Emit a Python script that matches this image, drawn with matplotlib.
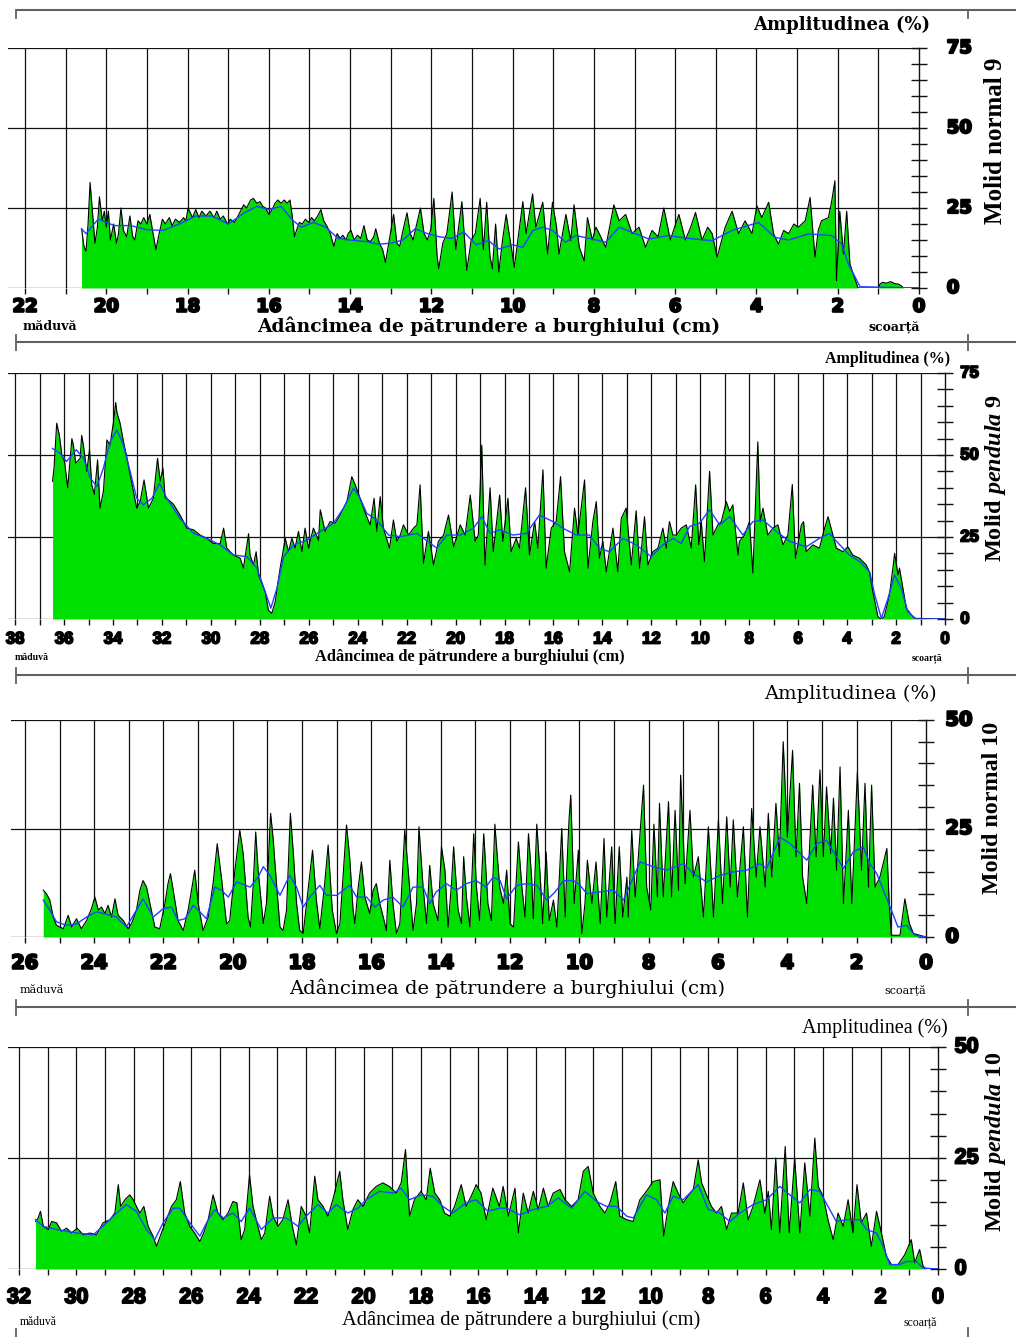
import matplotlib
matplotlib.use("Agg")
import numpy as np
import matplotlib.pyplot as plt
import matplotlib.patheffects as pe

plt.rcParams['mathtext.fontset'] = 'custom'
plt.rcParams['mathtext.it'] = 'Liberation Serif:italic:bold'
plt.rcParams['mathtext.rm'] = 'Liberation Serif:bold'

W, H = 1016, 1337

# ---------------------------------------------------------------------------
# Resistograph profiles: (depth cm, amplitude %) for raw signal and trend
# ---------------------------------------------------------------------------
p1_raw = [
    (20.61, 18.5), (20.55, 13), (20.50, 11.5), (20.45, 20), (20.40, 33), (20.33, 22),
    (20.28, 14), (20.22, 19), (20.17, 28.5), (20.10, 21), (20.05, 24), (20.00, 19),
    (19.95, 24), (19.90, 15), (19.82, 20), (19.75, 14), (19.70, 17), (19.64, 25),
    (19.58, 18), (19.50, 16), (19.42, 22.5), (19.35, 16), (19.30, 15), (19.22, 21),
    (19.15, 20), (19.08, 22), (19.00, 20), (18.93, 23), (18.85, 17), (18.78, 12),
    (18.70, 17), (18.62, 21.5), (18.55, 20), (18.45, 22), (18.38, 19.5), (18.30, 21.5),
    (18.20, 20.5), (18.10, 22), (18.04, 21), (17.99, 25), (17.88, 22), (17.80, 24.5),
    (17.72, 22), (17.65, 24), (17.55, 22.5), (17.45, 24), (17.35, 22), (17.28, 24),
    (17.20, 21.5), (17.12, 22.5), (17.02, 20), (16.95, 21.5), (16.85, 20.5), (16.78, 22),
    (16.70, 24), (16.62, 26), (16.55, 25), (16.45, 27.5), (16.38, 28), (16.30, 26.5),
    (16.22, 27), (16.15, 25.5), (16.08, 25), (16.00, 23), (15.92, 24.5), (15.85, 26.5),
    (15.78, 27.5), (15.70, 26.5), (15.62, 27.5), (15.55, 26.5), (15.48, 27.5), (15.42, 22),
    (15.37, 16), (15.32, 18), (15.25, 20.5), (15.18, 20), (15.10, 21.5), (15.02, 20.5),
    (14.95, 22), (14.88, 21), (14.80, 22.5), (14.72, 24.5), (14.65, 21), (14.58, 19.5),
    (14.50, 17.5), (14.40, 13), (14.32, 17), (14.25, 15.5), (14.18, 16.5), (14.10, 15),
    (14.05, 17), (13.98, 18), (13.90, 15), (13.82, 16.5), (13.74, 15.5), (13.66, 19.5),
    (13.58, 15), (13.50, 14.5), (13.42, 16), (13.37, 18.5), (13.28, 14), (13.20, 12),
    (13.13, 8), (13.05, 14), (12.93, 23), (12.85, 14), (12.78, 13), (12.70, 18),
    (12.60, 23.5), (12.52, 17), (12.45, 15), (12.38, 19), (12.27, 25), (12.18, 17),
    (12.10, 15), (12.02, 18), (11.94, 28), (11.86, 10), (11.82, 6), (11.72, 14),
    (11.62, 17), (11.49, 30), (11.40, 12), (11.32, 20), (11.25, 27), (11.13, 5.5),
    (11.02, 15), (10.92, 17), (10.80, 28), (10.72, 12), (10.64, 26.8), (10.56, 10),
    (10.50, 6), (10.42, 20), (10.34, 5), (10.25, 15), (10.16, 23), (9.96, 6.5),
    (9.75, 27), (9.67, 17), (9.51, 29.4), (9.43, 19), (9.26, 26.8), (9.14, 10.6),
    (9.02, 26.8), (8.92, 19), (8.86, 10.6), (8.69, 23), (8.57, 14.8), (8.49, 26),
    (8.36, 12.7), (8.24, 8.5), (8.16, 22), (8.04, 15), (7.95, 19), (7.87, 17),
    (7.71, 12.7), (7.51, 26), (7.38, 21), (7.22, 23), (7.06, 17), (6.89, 19),
    (6.73, 12.7), (6.57, 18), (6.42, 16), (6.28, 25), (6.12, 15), (5.91, 23),
    (5.75, 15), (5.62, 19), (5.50, 23.6), (5.34, 15), (5.20, 19), (5.09, 17),
    (4.97, 9.6), (4.77, 19), (4.60, 24), (4.44, 17), (4.28, 21), (4.11, 17),
    (3.99, 25.7), (3.87, 22), (3.70, 26.8), (3.58, 17), (3.46, 13.7), (3.33, 18),
    (3.21, 17), (3.08, 20), (2.97, 19), (2.80, 21), (2.68, 28.3), (2.56, 9.6),
    (2.48, 18), (2.40, 21), (2.23, 22), (2.15, 27), (2.07, 33.5), (2.03, 2.3),
    (1.95, 24), (1.86, 10.6), (1.78, 24), (1.70, 7.5), (1.62, 4.4), (1.50, 0),
    (1.00, 0), (0.96, 1.2), (0.90, 1.8), (0.80, 1.5), (0.70, 2.0), (0.60, 1.4),
    (0.50, 1.2), (0.42, 0.5), (0.38, 0), (0.00, 0),
]
p1_trend = [
    (20.61, 18.5), (20.5, 17), (20.2, 21.5), (19.8, 19.5), (19.4, 19.5), (19.0, 18.2),
    (18.6, 18), (18.2, 20), (17.8, 22.5), (17.4, 22.5), (17.0, 20), (16.6, 23.5),
    (16.3, 25.5), (16.0, 24.5), (15.7, 25.5), (15.4, 21), (15.2, 19), (14.9, 20.5),
    (14.6, 19), (14.3, 15.5), (14.0, 15), (13.6, 14.5), (13.3, 13.7), (13.0, 14),
    (12.7, 15), (12.4, 18.5), (12.1, 17), (11.8, 16), (11.5, 15.5), (11.2, 17.5),
    (10.9, 13.5), (10.6, 14.8), (10.33, 12.2), (10.0, 13.5), (9.75, 12.7), (9.5, 18),
    (9.26, 19), (9.02, 18), (8.7, 14.3), (8.45, 16.4), (8.04, 15.3), (7.71, 14.3),
    (7.38, 19), (7.06, 17.4), (6.65, 15.3), (6.16, 16.4), (5.75, 15.6), (5.09, 14.8),
    (4.6, 18), (3.95, 20.5), (3.54, 15.8), (3.21, 15), (2.72, 16.9), (2.15, 16.4),
    (1.9, 13.7), (1.74, 7.5), (1.45, 0.4), (0.0, 0),
]

p2_raw = [
    (36.47, 42), (36.41, 46), (36.30, 59.7), (36.19, 56), (36.09, 50), (35.98, 48),
    (35.85, 40), (35.68, 55), (35.62, 53), (35.52, 47.5), (35.34, 49), (35.28, 56),
    (35.21, 53), (35.07, 45), (34.96, 51.6), (34.87, 41), (34.76, 38), (34.63, 48.5),
    (34.53, 33.8), (34.39, 39), (34.25, 54.6), (34.12, 53), (33.98, 60), (33.89, 66),
    (33.84, 63), (33.71, 59.7), (33.57, 54), (33.44, 49.5), (33.30, 44), (33.03, 33.8),
    (32.89, 35.8), (32.73, 42.4), (32.55, 33.8), (32.35, 36.8), (32.18, 49), (32.07, 42),
    (31.96, 46), (31.87, 37), (31.73, 36.3), (31.53, 35), (31.26, 31.7), (30.98, 27.7),
    (30.71, 27.2), (30.44, 25.6), (30.17, 24.6), (29.89, 23), (29.62, 23), (29.48, 27.7),
    (29.35, 21.6), (29.08, 19.5), (28.80, 18.5), (28.67, 15.5), (28.46, 26), (28.40, 19.5),
    (28.26, 16.5), (28.15, 20.5), (28.05, 13.4), (27.92, 10.9), (27.78, 8.3), (27.65, 2.7),
    (27.51, 1.7), (27.37, 5.3), (27.17, 15.5), (26.96, 24.6), (26.83, 20.5), (26.69, 24.6),
    (26.56, 21.6), (26.42, 26.7), (26.28, 20.5), (26.15, 27.7), (26.01, 21.6), (25.81, 27.7),
    (25.60, 24), (25.53, 33.3), (25.33, 26.7), (25.13, 29.7), (24.92, 29.2), (24.72, 31.7),
    (24.44, 35.8), (24.24, 43.4), (24.10, 40.9), (23.90, 36.8), (23.63, 31.2), (23.49, 28.7),
    (23.33, 36.8), (23.22, 26.7), (23.08, 37.3), (22.95, 27.7), (22.70, 21.6), (22.54, 30.2),
    (22.40, 23.7), (22.26, 25.6), (22.13, 28.7), (21.92, 25.6), (21.72, 27.7), (21.58, 28.7),
    (21.45, 40.9), (21.31, 17), (21.11, 26.7), (20.90, 16.5), (20.70, 23.7), (20.49, 25.6),
    (20.29, 31.7), (20.08, 22), (19.81, 28.7), (19.61, 25.6), (19.40, 37.8), (19.20, 23.7),
    (19.07, 25.6), (18.93, 53), (18.80, 16.5), (18.59, 40), (18.46, 20.5), (18.20, 37.8),
    (18.07, 23.7), (17.86, 36.8), (17.73, 20.5), (17.52, 24.6), (17.39, 21.6), (17.14, 40),
    (16.98, 19.5), (16.77, 29.7), (16.64, 21.6), (16.43, 45.5), (16.30, 15.5), (16.09, 27.7),
    (15.89, 29.7), (15.71, 43.4), (15.55, 20.5), (15.34, 14.4), (15.14, 33.8), (15.00, 25.6),
    (14.73, 42.4), (14.59, 15.5), (14.39, 29.7), (14.25, 35.8), (14.12, 18.5), (13.98, 23.7),
    (13.84, 14.4), (13.57, 27.7), (13.37, 14.4), (13.23, 30.7), (13.03, 33.8), (12.82, 16.5),
    (12.62, 33), (12.48, 15.5), (12.28, 31.2), (12.14, 16.5), (11.94, 20.5), (11.73, 21.6),
    (11.53, 27.7), (11.39, 21.6), (11.26, 29.7), (11.12, 25.6), (10.98, 25.6), (10.78, 27.7),
    (10.57, 28.7), (10.37, 21.6), (10.19, 40.9), (10.06, 22.6), (9.96, 29.7), (9.83, 17.5),
    (9.62, 45), (9.48, 25.6), (9.28, 28.7), (9.14, 29.7), (8.94, 35.8), (8.80, 32.8),
    (8.67, 34.8), (8.46, 19.5), (8.40, 23.7), (8.19, 25.6), (7.99, 29.7), (7.85, 14),
    (7.65, 54), (7.55, 29.7), (7.44, 33.8), (7.24, 25.6), (7.03, 27.7), (6.83, 28.7),
    (6.62, 22.6), (6.42, 25.6), (6.24, 41), (6.11, 18.5), (5.87, 28.7), (5.78, 29.7),
    (5.67, 20.5), (5.40, 22.6), (5.13, 21.6), (4.92, 27.7), (4.78, 31.2), (4.58, 25.6),
    (4.44, 21.6), (4.17, 20.5), (3.97, 22), (3.77, 19.5), (3.49, 18.5), (3.22, 16.5),
    (3.09, 14.4), (2.95, 8.3), (2.74, 0.7), (2.61, 0), (2.48, 0.7), (2.27, 7.3),
    (2.13, 15.5), (2.06, 20), (1.92, 13.4), (1.86, 15.5), (1.72, 9.4), (1.58, 3.3),
    (1.37, 1.2), (1.24, 0.2), (0.00, 0),
]
p2_trend = [
    (36.47, 52), (36.16, 50.5), (35.9, 48), (35.5, 51.6), (35.2, 49), (34.93, 43),
    (34.66, 40.4), (34.39, 46), (34.12, 54), (33.84, 57.7), (33.57, 53), (33.3, 45),
    (33.03, 36.8), (32.76, 34.8), (32.41, 36.8), (32.1, 41.4), (31.8, 36.8), (31.26, 30.7),
    (30.71, 26.1), (30.17, 24.6), (29.62, 22.6), (29.08, 19.5), (28.53, 19), (28.12, 15.5),
    (27.78, 8.3), (27.55, 3.3), (27.3, 9.4), (27.03, 19), (26.62, 22.6), (26.08, 24),
    (25.53, 26.7), (24.99, 29.2), (24.58, 33.8), (24.17, 39.9), (23.9, 36.8), (23.63, 32.2),
    (23.22, 30.2), (22.74, 25.6), (22.26, 25.1), (21.58, 26.1), (21.2, 24), (20.77, 21.6),
    (20.36, 25.6), (19.81, 25.6), (19.27, 27.7), (18.93, 31.2), (18.59, 26.1), (18.2, 27.2),
    (17.66, 25.6), (17.11, 26.1), (16.57, 31.7), (16.02, 29.7), (15.62, 27.7), (15.07, 25.6),
    (14.53, 25.6), (14.12, 21.6), (13.71, 20.5), (13.16, 24.6), (12.62, 22.6), (12.0, 19),
    (11.53, 22.6), (11.12, 24.6), (10.78, 23), (10.44, 28.2), (10.03, 29.2), (9.62, 33.3),
    (9.21, 28.7), (8.8, 31.2), (8.26, 25.6), (7.85, 29.7), (7.44, 30.2), (6.9, 26.7),
    (6.35, 23.7), (5.67, 22), (5.13, 24.6), (4.72, 26.1), (4.44, 23.7), (3.9, 19.5),
    (3.49, 17.5), (3.08, 14.4), (2.87, 7.3), (2.6, 0.2), (2.33, 6.3), (2.06, 13.4),
    (1.79, 9.4), (1.52, 2.2), (1.18, 0), (0.0, 0),
]

p3_raw = [
    (25.47, 10.8), (25.38, 10), (25.28, 8.5), (25.18, 4.6), (25.09, 2.7), (24.99, 2.3),
    (24.89, 1.9), (24.75, 5), (24.65, 2.3), (24.51, 4.2), (24.37, 1.9), (24.22, 3.8),
    (24.08, 6.5), (23.98, 9.2), (23.88, 6.2), (23.79, 6.9), (23.69, 5.4), (23.60, 7.3),
    (23.50, 4.6), (23.40, 8.8), (23.31, 5), (23.16, 3.8), (23.02, 1.9), (22.92, 3.1),
    (22.78, 6.2), (22.68, 10.8), (22.59, 13), (22.49, 11.5), (22.39, 7.7), (22.25, 2.3),
    (22.11, 1.9), (21.96, 7.7), (21.87, 12.3), (21.80, 14.6), (21.72, 10.8), (21.58, 3.8),
    (21.43, 1.5), (21.29, 6.2), (21.16, 12.3), (21.10, 15.4), (21.00, 7.7), (20.86, 1.5),
    (20.71, 4.6), (20.57, 12.3), (20.45, 21.5), (20.33, 13.8), (20.18, 3), (20.09, 3.8),
    (19.94, 15.4), (19.80, 24.6), (19.70, 19.2), (19.56, 4.6), (19.49, 2.3), (19.41, 12.3),
    (19.34, 24.2), (19.27, 15.4), (19.12, 3.1), (19.03, 7.7), (18.91, 28.5), (18.84, 23),
    (18.74, 12.3), (18.64, 2.3), (18.55, 1.5), (18.45, 6.2), (18.34, 28.5), (18.26, 20),
    (18.16, 7.7), (18.07, 1.5), (17.97, 0.8), (17.83, 10.8), (17.70, 20), (17.59, 8.5),
    (17.49, 1.9), (17.35, 12.3), (17.25, 21.2), (17.13, 6.2), (17.01, 0.8), (16.91, 3.1),
    (16.82, 13.8), (16.72, 25.8), (16.63, 18.5), (16.53, 6.2), (16.48, 3.1), (16.38, 11.5),
    (16.29, 17.3), (16.19, 9.2), (16.05, 5.4), (15.95, 10.8), (15.86, 12.3), (15.76, 7.7),
    (15.66, 4.6), (15.57, 1.5), (15.47, 17.7), (15.38, 7.7), (15.28, 0.8), (15.18, 3.1),
    (15.04, 24.6), (14.94, 15.4), (14.80, 1.5), (14.70, 7.7), (14.63, 25.4), (14.51, 11.5),
    (14.41, 3.1), (14.32, 16.5), (14.22, 7.7), (14.08, 3.8), (13.98, 20.8), (13.88, 15.4),
    (13.79, 2.3), (13.69, 12.3), (13.63, 20.8), (13.50, 6.2), (13.40, 3.1), (13.34, 18.5),
    (13.26, 9.2), (13.16, 2.3), (13.05, 23.8), (12.97, 11.5), (12.88, 3.8), (12.76, 23.8),
    (12.64, 7.7), (12.54, 3.8), (12.44, 26), (12.30, 11.5), (12.19, 7.7), (12.10, 15.4),
    (12.00, 3), (11.90, 2.3), (11.76, 21.9), (11.66, 11.5), (11.57, 4.6), (11.47, 23.8),
    (11.38, 13.8), (11.33, 4.2), (11.23, 26), (11.13, 13.8), (11.06, 3.1), (10.96, 19.6),
    (10.87, 3.8), (10.75, 8.5), (10.65, 2.3), (10.51, 25), (10.41, 4.6), (10.37, 14.6),
    (10.30, 27), (10.25, 32.7), (10.15, 7.7), (10.03, 20), (9.93, 0.8), (9.84, 7.7),
    (9.77, 17.7), (9.64, 7.7), (9.52, 17.3), (9.40, 3.1), (9.29, 22.7), (9.21, 4.6),
    (9.07, 20.8), (8.97, 3.1), (8.85, 20.8), (8.75, 4.6), (8.63, 13.8), (8.59, 4.6),
    (8.49, 24.6), (8.39, 9.2), (8.30, 18.5), (8.15, 35), (8.06, 11.5), (7.94, 6.2),
    (7.85, 26), (7.75, 9.2), (7.69, 30.8), (7.58, 9.2), (7.43, 31.2), (7.34, 9.2),
    (7.24, 29.2), (7.14, 10.8), (7.08, 37.3), (6.95, 12.3), (6.81, 29.2), (6.71, 13.8),
    (6.57, 18.5), (6.42, 4.6), (6.28, 25.4), (6.13, 4.6), (5.99, 27), (5.87, 7.7),
    (5.75, 27.7), (5.65, 11.5), (5.56, 27), (5.44, 9.2), (5.27, 25.4), (5.15, 4.6),
    (5.03, 29.6), (4.90, 13.8), (4.79, 25.4), (4.64, 11.5), (4.55, 28.5), (4.45, 13.8),
    (4.33, 30.8), (4.23, 18.5), (4.12, 45), (4.00, 23), (3.85, 43), (3.75, 18.5),
    (3.65, 35.4), (3.56, 13.8), (3.44, 7.7), (3.27, 35), (3.17, 18.5), (3.06, 38.5),
    (2.96, 18.5), (2.87, 34.6), (2.75, 19.2), (2.67, 32), (2.58, 15.4), (2.48, 39.2),
    (2.38, 7.7), (2.24, 29.2), (2.14, 7.7), (1.98, 38), (1.86, 15.4), (1.76, 35.4),
    (1.66, 11.5), (1.57, 35), (1.47, 11.5), (1.33, 13.8), (1.13, 20.4), (1.06, 7.7),
    (1.00, 0.4), (0.75, 0.4), (0.61, 8.8), (0.48, 3.1), (0.36, 0.8), (0.00, 0),
]
p3_trend = [
    (25.47, 8.5), (25.28, 6.2), (25.09, 3.5), (24.8, 2.7), (24.51, 3), (24.22, 4.6),
    (23.93, 5.8), (23.64, 5.2), (23.36, 4.6), (23.07, 2.3), (22.78, 6.2), (22.59, 8.8),
    (22.3, 4.6), (22.01, 6.5), (21.77, 6.9), (21.58, 3.8), (21.38, 4.2), (21.14, 7.3),
    (20.95, 5.8), (20.76, 4.2), (20.52, 11.5), (20.33, 10.8), (20.13, 9.2), (19.89, 12.7),
    (19.5, 11.5), (19.27, 13.8), (19.12, 16.2), (18.93, 14.2), (18.64, 9.6), (18.36, 14.2),
    (18.16, 11.5), (17.97, 6.9), (17.78, 9.2), (17.49, 11.9), (17.3, 9.6), (17.0, 9.6),
    (16.63, 11.9), (16.43, 9.2), (16.14, 9.2), (15.9, 6.9), (15.66, 8.5), (15.38, 9.2),
    (15.09, 6.9), (14.8, 11.5), (14.51, 11.5), (14.32, 7.7), (14.13, 10.4), (13.84, 12.3),
    (13.55, 10.8), (13.26, 12.3), (12.98, 13), (12.7, 11.5), (12.49, 13.8), (12.29, 13),
    (12.1, 8.8), (11.81, 11.9), (11.52, 12.3), (11.23, 11.9), (10.94, 8.5), (10.7, 10.4),
    (10.46, 13), (10.17, 13), (9.98, 11.9), (9.79, 10), (9.4, 10.4), (9.02, 10.8),
    (8.73, 8.5), (8.44, 13.8), (8.25, 17.3), (7.87, 16.2), (7.48, 15.4), (7.0, 16.9),
    (6.71, 14.6), (6.33, 12.7), (5.94, 14.2), (5.56, 15), (5.17, 15.4), (4.79, 16.9),
    (4.6, 15.8), (4.21, 23), (3.92, 21.5), (3.63, 19.2), (3.44, 17.7), (3.15, 21.5),
    (2.87, 22.3), (2.67, 19.6), (2.38, 15.8), (2.1, 19.6), (1.81, 20.8), (1.62, 16.9),
    (1.42, 14.6), (1.23, 10.8), (1.0, 6.2), (0.81, 2.3), (0.56, 2.7), (0.32, 0.4),
    (0.0, 0),
]

p4_raw = [
    (31.42, 10.7), (31.33, 11.5), (31.25, 13), (31.15, 9.6), (30.98, 8.9), (30.86, 10.7),
    (30.69, 10.4), (30.52, 8.5), (30.34, 9.2), (30.17, 8.1), (29.97, 9.2), (29.76, 7.7),
    (29.53, 8.1), (29.30, 7.7), (29.07, 10.4), (28.83, 11.1), (28.66, 12.6), (28.54, 19),
    (28.46, 14.1), (28.31, 15.6), (28.14, 16.7), (28.02, 15.6), (27.91, 14.1), (27.79, 12.6),
    (27.65, 14.1), (27.50, 9.6), (27.33, 7.4), (27.21, 5.1), (27.04, 8.1), (26.86, 11.1),
    (26.69, 14.1), (26.52, 15.6), (26.38, 19.7), (26.23, 12.6), (26.05, 9.6), (25.88, 8.1),
    (25.70, 6.2), (25.57, 8.1), (25.41, 11.1), (25.24, 16.7), (25.07, 12.6), (24.89, 11.1),
    (24.72, 12.6), (24.55, 15.2), (24.41, 14.9), (24.26, 6.6), (24.14, 8.9), (23.97, 21.2),
    (23.85, 14.1), (23.68, 9.6), (23.56, 6.6), (23.44, 8.1), (23.27, 16.4), (23.15, 11.9),
    (22.98, 9.6), (22.81, 11.1), (22.63, 15.6), (22.48, 9.6), (22.34, 5.5), (22.17, 14.1),
    (22.00, 11.9), (21.88, 8.1), (21.70, 20.9), (21.59, 15.6), (21.41, 14.1), (21.24, 11.9),
    (21.07, 15.6), (20.83, 22), (20.72, 15.6), (20.55, 8.9), (20.37, 13.4), (20.20, 15.6),
    (20.02, 14.1), (19.79, 17.1), (19.56, 18.6), (19.33, 19.4), (19.10, 18.6), (18.86, 17.1),
    (18.69, 19.4), (18.54, 26.9), (18.40, 11.9), (18.23, 15.6), (18.00, 17.5), (17.82, 15.6),
    (17.68, 22.7), (17.52, 17.1), (17.35, 15.6), (17.18, 12.6), (17.00, 11.9), (16.83, 14.1),
    (16.60, 19), (16.43, 14.1), (16.25, 16.4), (16.08, 19), (15.91, 17.1), (15.73, 11.1),
    (15.50, 18.2), (15.27, 14.1), (15.14, 18.6), (14.96, 11.9), (14.73, 18.2), (14.61, 8.1),
    (14.44, 17.1), (14.27, 12.6), (14.09, 17.5), (13.92, 13.4), (13.74, 18.2), (13.57, 14.1),
    (13.40, 17.1), (13.16, 17.9), (12.99, 15.6), (12.76, 14.1), (12.53, 15.6), (12.35, 22),
    (12.18, 23.1), (12.00, 17), (11.77, 14.1), (11.60, 12.6), (11.42, 14.9), (11.22, 19.7),
    (11.08, 11.9), (10.84, 11.1), (10.61, 10.7), (10.38, 15.6), (10.15, 17.5), (9.92, 19.7),
    (9.68, 20.1), (9.55, 7.4), (9.39, 14.1), (9.22, 19.7), (9.05, 17.1), (8.87, 14.9),
    (8.70, 16.4), (8.52, 17.9), (8.35, 24.6), (8.23, 19.4), (8.06, 16.7), (7.89, 14.1),
    (7.71, 12.6), (7.54, 14.1), (7.36, 8.9), (7.19, 12.6), (6.96, 12.6), (6.78, 19.4),
    (6.61, 11.1), (6.44, 14.1), (6.20, 20.1), (6.03, 12.6), (5.91, 17.5), (5.80, 8.9),
    (5.65, 25), (5.51, 8.1), (5.32, 27.6), (5.18, 8.1), (4.99, 25), (4.81, 8.1),
    (4.64, 23.9), (4.46, 11.9), (4.29, 29.5), (4.17, 18.6), (4.00, 16.4), (3.83, 11.1),
    (3.65, 6.6), (3.48, 12.6), (3.30, 9.6), (3.13, 15.6), (2.96, 8.1), (2.82, 19),
    (2.67, 10.4), (2.49, 12.6), (2.32, 5.1), (2.14, 13), (1.97, 8.1), (1.80, 2.9),
    (1.62, 1), (1.39, 1), (1.16, 3.2), (0.93, 6.6), (0.81, 1.4), (0.64, 4.4),
    (0.52, 0.6), (0.40, 0), (0.00, 0),
]
p4_trend = [
    (31.42, 11.1), (31.15, 9.6), (30.69, 8.9), (29.99, 8.1), (29.41, 7.7), (28.95, 10.4),
    (28.6, 12.6), (28.26, 14.5), (27.91, 13), (27.56, 8.9), (27.27, 6.6), (26.98, 10.4),
    (26.63, 13.7), (26.4, 13.7), (26.05, 10.4), (25.7, 7.4), (25.41, 11.1), (25.18, 13.4),
    (24.89, 11.5), (24.55, 12.6), (24.26, 10.7), (23.97, 13.7), (23.56, 8.9), (23.15, 11.5),
    (22.69, 11.5), (22.28, 9.6), (22.0, 11.9), (21.59, 14.5), (21.24, 12.6), (20.95, 14.5),
    (20.55, 12.6), (20.2, 13.7), (19.91, 15.6), (19.44, 17.5), (18.98, 17.1), (18.69, 18.2),
    (18.4, 15.6), (18.0, 16.7), (17.59, 16.4), (17.24, 14.1), (16.9, 12.6), (16.43, 14.9),
    (16.08, 15.6), (15.67, 13), (15.27, 13.7), (15.02, 13.7), (14.56, 12.2), (14.09, 13.4),
    (13.63, 14.1), (13.22, 16), (12.76, 13.7), (12.29, 17.5), (11.89, 15.2), (11.54, 14.1),
    (11.19, 14.1), (10.84, 11.9), (10.61, 11.5), (10.15, 16.7), (9.8, 15.6), (9.51, 12.6),
    (9.22, 16.4), (8.87, 15.6), (8.35, 19), (8.0, 13.4), (7.6, 12.6), (7.25, 10.7),
    (6.9, 12.6), (6.44, 14.5), (5.97, 15.6), (5.51, 18.6), (5.16, 16.7), (4.81, 14.9),
    (4.46, 17.9), (4.12, 17.5), (3.77, 13.4), (3.54, 10.7), (3.19, 11.1), (2.72, 11.1),
    (2.49, 8.9), (2.14, 8.1), (1.91, 5.1), (1.68, 1), (1.33, 1), (1.1, 1.7),
    (0.75, 1.7), (0.52, 0.2), (0.0, 0),
]

titles = ["Molid normal 9", r"Molid $\mathit{pendula}$ 9",
          "Molid normal 10", r"Molid $\mathit{pendula}$ 10"]
x_label = "Adâncimea de pătrundere a burghiului (cm)"
y_label = "Amplitudinea (%)"
pith_label = "măduvă"
bark_label = "scoarță"

GREEN = "#00e000"
BLUE = "#2040ff"
INK = "#111111"

fig = plt.figure(figsize=(W / 100, H / 100), dpi=100)


def px_axes(left, right, top, bottom):
    return fig.add_axes([left / W, 1 - bottom / H, (right - left) / W, (bottom - top) / H])


# panel geometry (pixel box of the plotting area) and styling
panels = [
    dict(raw=p1_raw, trend=p1_trend, box=(8, 919, 48, 288), xmax=22.42, ymax=75,
         tick_font=dict(family="DejaVu Sans", weight="bold", size=13), stroke=1.6,
         xpad=3, ypad=14),
    dict(raw=p2_raw, trend=p2_trend, box=(8, 945, 373, 619), xmax=38.29, ymax=75,
         tick_font=dict(family="Liberation Sans", weight="bold", size=12), stroke=1.3,
         xpad=5, ypad=5),
    dict(raw=p3_raw, trend=p3_trend, box=(11, 926, 720, 937), xmax=26.40, ymax=50,
         tick_font=dict(family="DejaVu Sans", weight="bold", size=14), stroke=1.6,
         xpad=8, ypad=8),
    dict(raw=p4_raw, trend=p4_trend, box=(8, 938, 1047, 1269), xmax=32.38, ymax=50,
         tick_font=dict(family="Liberation Sans", weight="bold", size=15.5), stroke=1.4,
         xpad=9, ypad=6),
]

for p in panels:
    ax = px_axes(*p["box"])
    xmax, ymax = p["xmax"], p["ymax"]
    ax.set_xlim(xmax, 0)
    ax.set_ylim(0, ymax)
    ax.patch.set_alpha(0)

    # grid: one line per centimetre, one per 25 %
    for c in range(1, int(xmax) + 1):
        ax.axvline(c, color=INK, lw=0.9, zorder=1)
    for v in range(0, ymax + 1, 25):
        ax.axhline(v, color=INK, lw=0.9, zorder=1)

    d_raw, a_raw = zip(*p["raw"])
    d_tr, a_tr = zip(*p["trend"])
    ax.fill_between(d_raw, a_raw, 0, color=GREEN, lw=0, zorder=2)
    ax.plot(d_raw, a_raw, color="black", lw=0.8, zorder=3)
    ax.plot(d_tr, a_tr, color=BLUE, lw=1.0, zorder=4)

    for s in ("top", "left", "bottom"):
        ax.spines[s].set_visible(False)
    ax.spines["right"].set_color(INK)
    ax.spines["right"].set_linewidth(1.0)

    # x ticks: every cm, labels on even values
    xt = list(range(0, int(xmax) + 1))
    ax.set_xticks(xt)
    ax.set_xticklabels([str(c) if c % 2 == 0 else "" for c in xt], **p["tick_font"])
    ax.tick_params(axis="x", direction="out", length=4, width=1.0, color=INK,
                   pad=p["xpad"])

    # y ticks on the right
    ax.yaxis.tick_right()
    yt = list(range(0, ymax + 1, 25))
    ax.set_yticks(yt)
    ax.set_yticks([v for v in range(5, ymax, 5) if v % 25], minor=True)
    ax.tick_params(axis="y", which="major", direction="inout", length=12, width=1.0,
                   color=INK, pad=p["ypad"])
    ax.tick_params(axis="y", which="minor", direction="inout", length=12, width=1.0,
                   color=INK)
    ax.set_yticklabels([str(v) for v in yt], va="center", **p["tick_font"])
    eff = [pe.Stroke(linewidth=p["stroke"], foreground="black"), pe.Normal()]
    for lbl in ax.get_xticklabels():
        lbl.set_path_effects(eff)
    for lbl in ax.yaxis.get_ticklabels(which="major"):
        lbl.set_path_effects(eff)

# overlay in pixel coordinates for frame rules and captions
ov = fig.add_axes([0, 0, 1, 1])
ov.set_xlim(0, W)
ov.set_ylim(H, 0)
ov.axis("off")

FRAME = "#606060"
for y_top in (10, 342, 675, 1007):
    ov.plot([16, W], [y_top, y_top], color=FRAME, lw=1.5, solid_capstyle="butt")
    lo = y_top if y_top == 10 else y_top - 7
    ov.plot([16, 16], [lo, y_top + 8], color=FRAME, lw=1.3)
    ov.plot([968, 968], [y_top + 2 if y_top == 10 else y_top - 7, y_top + 8],
            color=FRAME, lw=1.3)
ov.plot([16, 16], [1329, 1337], color=FRAME, lw=1.3)
ov.plot([968, 968], [1328, 1337], color=FRAME, lw=1.3)

serif = "Liberation Serif"
wide = "DejaVu Serif"
texts = [
    # (x, y, text, ha, family, weight, size, rotation)
    (930, 25, y_label, "right", wide, "bold", 13, 0),
    (995, 141, titles[0], "center", serif, "bold", 18, 90),
    (489, 326, x_label, "center", wide, "bold", 13.5, 0),
    (23, 327, pith_label, "left", wide, "bold", 9, 0),
    (920, 327, bark_label, "right", wide, "bold", 9, 0),

    (950, 359, y_label, "right", serif, "bold", 11.5, 0),
    (995, 478, titles[1], "center", serif, "bold", 17.5, 90),
    (470, 657, x_label, "center", serif, "bold", 11.8, 0),
    (15, 658, pith_label, "left", serif, "bold", 7, 0),
    (942, 658, bark_label, "right", serif, "bold", 7, 0),

    (937, 694, y_label, "right", wide, "normal", 14, 0),
    (993, 808, titles[2], "center", serif, "bold", 17.3, 90),
    (507, 988, x_label, "center", wide, "normal", 14, 0),
    (20, 990, pith_label, "left", wide, "normal", 8, 0),
    (926, 990, bark_label, "right", wide, "normal", 8, 0),

    (948, 1028, y_label, "right", serif, "normal", 14.5, 0),
    (995, 1142, titles[3], "center", serif, "bold", 17.5, 90),
    (521, 1320, x_label, "center", serif, "normal", 14.8, 0),
    (20, 1322, pith_label, "left", serif, "normal", 8.5, 0),
    (937, 1322, bark_label, "right", serif, "normal", 8.5, 0),
]
for x, y, s, ha, fam, wt, sz, rot in texts:
    ov.text(x, y, s, ha=ha, va="center", family=fam, weight=wt, size=sz,
            rotation=rot, color="black")

fig.savefig("out.png", dpi=100)
